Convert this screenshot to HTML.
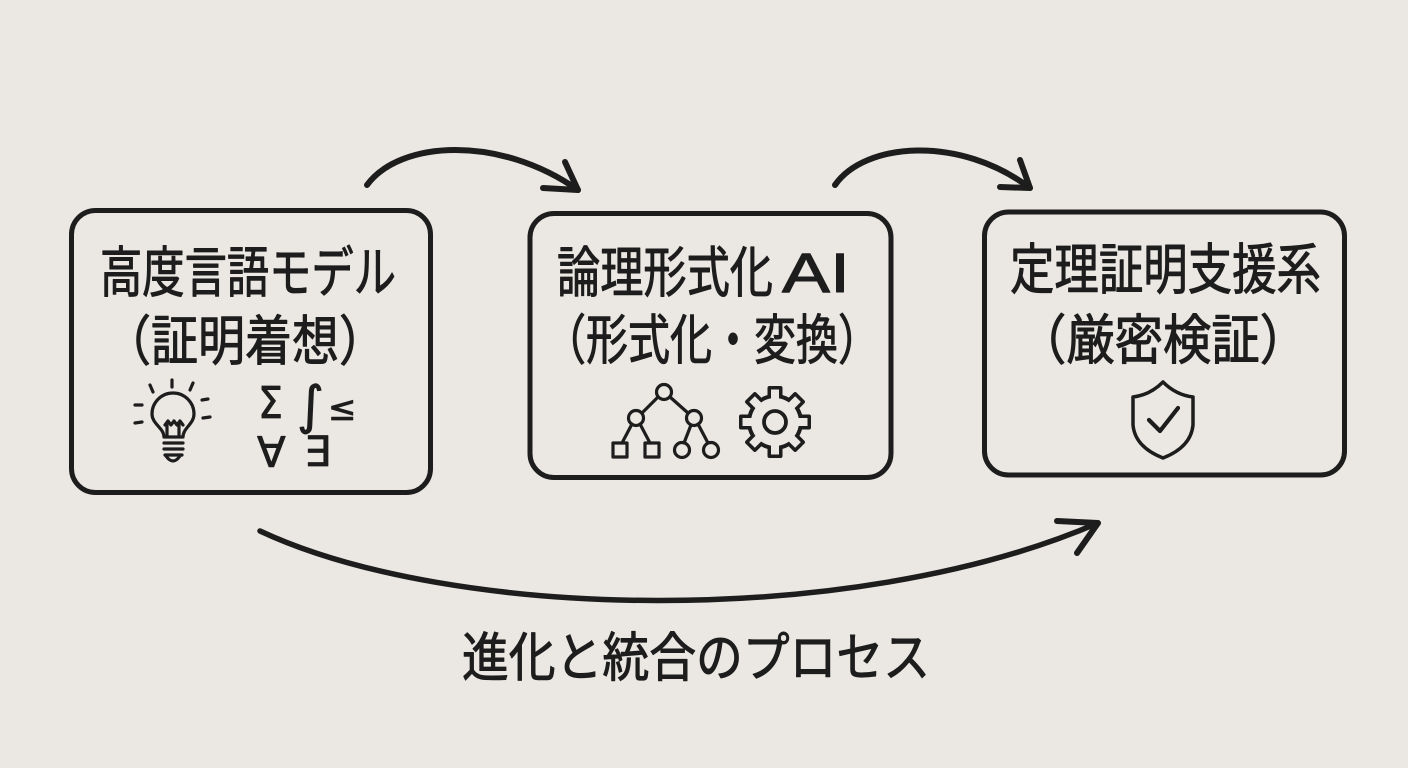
<!DOCTYPE html>
<html><head><meta charset="utf-8">
<style>
html,body{margin:0;padding:0;background:#ebe8e3;}
svg{display:block;}
.t{font-family:"Liberation Sans","Noto Sans CJK JP",sans-serif;fill:#1d1d1d;stroke:#1d1d1d;stroke-width:1px;stroke-linejoin:round;}
.m{font-family:"DejaVu Sans","Liberation Sans",sans-serif;fill:#1d1d1d;stroke:#1d1d1d;stroke-width:0.8px;stroke-linejoin:round;}
</style></head>
<body>
<svg width="1408" height="768" viewBox="0 0 1408 768" xmlns="http://www.w3.org/2000/svg">
<rect width="1408" height="768" fill="#ebe8e3"/>
<g fill="none" stroke="#1d1d1d" stroke-linecap="round" stroke-linejoin="round">
  <!-- boxes -->
  <rect x="71.5" y="210.5" width="359" height="282" rx="24" stroke-width="5"/>
  <rect x="530" y="213.5" width="361" height="264" rx="24" stroke-width="5"/>
  <rect x="984.5" y="212" width="360" height="263" rx="24" stroke-width="5"/>
  <!-- arrows -->
  <path d="M367,185 C400,140 500,135 578,190" stroke-width="6"/>
  <path d="M565,162 L578,190 L543,188" stroke-width="6"/>
  <path d="M835,185 C865,142 960,135 1030,188" stroke-width="6"/>
  <path d="M1020,160 L1030,188 L1000,187" stroke-width="6"/>
  <path d="M260,531 C450,620 850,630 1098,523" stroke-width="5.5"/>
  <path d="M1057,521 L1098,523 L1077,553" stroke-width="6"/>

  <!-- lightbulb -->
  <g stroke-width="3.2">
    <path d="M164,437 C164,428 152,424 152,414 A21,21 0 1 1 194,414 C194,424 183,428 183,437 Z"/>
    <path d="M164,443 L183,443 M164,449 L183,449 M165,455 L182,455"/>
    <path d="M166,456 Q173,466 180,456"/>
    <path d="M167,436 L167,425 M179,436 L179,425 M165,425 l3,-4 l3,4 l3,-4 l3,4 l3,-4 l3,4"/>
    <path d="M172,380 L172,387 M150,385 L153,392 M193,383 L190,390 M135,405 L142,405 M202,400 L208,399 M135,423 L142,422 M203,418 L210,417"/>
  </g>

  <!-- tree -->
  <g stroke-width="3.2">
    <circle cx="664" cy="392" r="7.5"/>
    <circle cx="636" cy="418" r="7.5"/>
    <circle cx="694" cy="418" r="7.5"/>
    <rect x="613" y="443" width="14" height="14"/>
    <rect x="645" y="443" width="14" height="14"/>
    <circle cx="682" cy="450" r="7.5"/>
    <circle cx="711" cy="450" r="7.5"/>
    <path d="M658,397 L642,413 M670,397 L688,413 M632,424 L622,443 M640,424 L650,443 M691,425 L684,443 M698,424 L708,443"/>
  </g>

  <!-- shield -->
  <g stroke-width="3.5">
    <path d="M1163,382 Q1150,395 1133,397 L1133,425 Q1135,447 1163,458 Q1191,447 1193,425 L1193,397 Q1176,395 1163,382 Z"/>
    <path d="M1149,420 L1160,431 L1178,408" stroke-width="4.2"/>
  </g>
</g>

<!-- gear -->
<g transform="translate(775,422)">
  <g fill="#1d1d1d">
    <circle r="28"/>
    <rect x="-7.5" y="-36" width="15" height="14" rx="2"/>
    <rect x="-7.5" y="-36" width="15" height="14" rx="2" transform="rotate(45)"/>
    <rect x="-7.5" y="-36" width="15" height="14" rx="2" transform="rotate(90)"/>
    <rect x="-7.5" y="-36" width="15" height="14" rx="2" transform="rotate(135)"/>
    <rect x="-7.5" y="-36" width="15" height="14" rx="2" transform="rotate(180)"/>
    <rect x="-7.5" y="-36" width="15" height="14" rx="2" transform="rotate(225)"/>
    <rect x="-7.5" y="-36" width="15" height="14" rx="2" transform="rotate(270)"/>
    <rect x="-7.5" y="-36" width="15" height="14" rx="2" transform="rotate(315)"/>
  </g>
  <g fill="#ebe8e3">
    <circle r="24"/>
    <rect x="-4" y="-32.5" width="8" height="12"/>
    <rect x="-4" y="-32.5" width="8" height="12" transform="rotate(45)"/>
    <rect x="-4" y="-32.5" width="8" height="12" transform="rotate(90)"/>
    <rect x="-4" y="-32.5" width="8" height="12" transform="rotate(135)"/>
    <rect x="-4" y="-32.5" width="8" height="12" transform="rotate(180)"/>
    <rect x="-4" y="-32.5" width="8" height="12" transform="rotate(225)"/>
    <rect x="-4" y="-32.5" width="8" height="12" transform="rotate(270)"/>
    <rect x="-4" y="-32.5" width="8" height="12" transform="rotate(315)"/>
  </g>
  <circle r="11" fill="none" stroke="#1d1d1d" stroke-width="3.8"/>
</g>

<!-- math symbols -->
<text class="m" x="258" y="418" font-size="44" textLength="25" lengthAdjust="spacingAndGlyphs">Σ</text>
<text class="m" x="297" y="423" font-size="52">∫</text>
<text class="m" x="328" y="420" font-size="34">≤</text>
<text class="m" x="257" y="467" font-size="42">∀</text>
<text class="m" x="304" y="466" font-size="42">∃</text>

<!-- box 1 text -->
<text class="t" x="100" y="292" font-size="55" textLength="296" lengthAdjust="spacingAndGlyphs">高度言語モデル</text>
<text class="t" x="104" y="360" font-size="54" textLength="282" lengthAdjust="spacingAndGlyphs">（証明着想）</text>

<!-- box 2 text -->
<text class="t" x="557" y="292" font-size="55" textLength="216" lengthAdjust="spacingAndGlyphs">論理形式化</text>
<text class="t" x="782" y="292" font-size="56" textLength="68" lengthAdjust="spacingAndGlyphs">AI</text>
<text class="t" x="544" y="359" font-size="54" textLength="336" lengthAdjust="spacingAndGlyphs">（形式化・変換）</text>

<!-- box 3 text -->
<text class="t" x="1010" y="289" font-size="55" textLength="311" lengthAdjust="spacingAndGlyphs">定理証明支援系</text>
<text class="t" x="1018" y="359" font-size="54" textLength="290" lengthAdjust="spacingAndGlyphs">（厳密検証）</text>

<!-- bottom label -->
<text class="t" x="462" y="676" font-size="53" textLength="468" lengthAdjust="spacingAndGlyphs">進化と統合のプロセス</text>
</svg>
</body></html>
